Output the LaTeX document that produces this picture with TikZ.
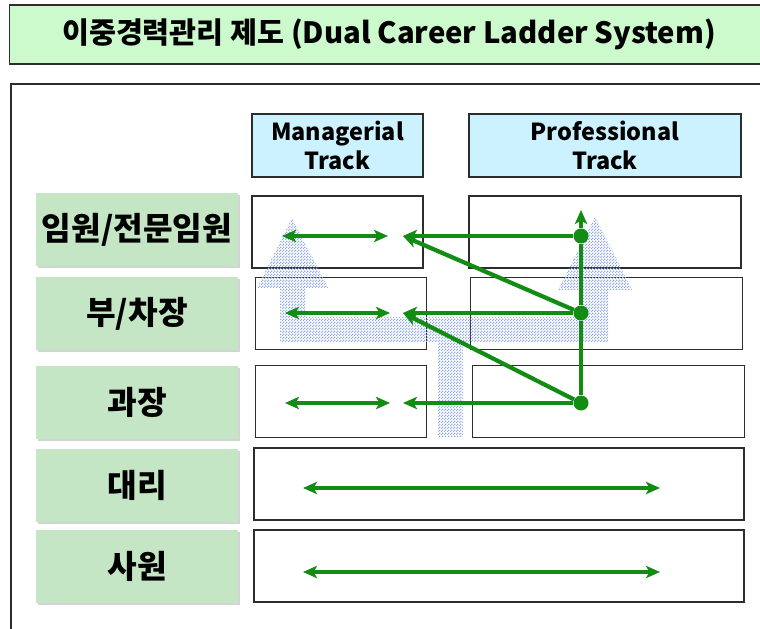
\documentclass[tikz,border=0pt]{standalone}
\usepackage{fontspec}
\setmainfont{Noto Sans CJK KR}
\usetikzlibrary{arrows.meta,patterns,shadows}
\definecolor{titlegreen}{RGB}{204,250,204}
\definecolor{rankgreen}{RGB}{196,230,196}
\definecolor{trackblue}{RGB}{204,242,255}
\definecolor{arrowgreen}{RGB}{18,140,18}
\definecolor{ladderblue}{RGB}{150,172,232}
\definecolor{boxline}{RGB}{45,45,45}
\pgfdeclarepatternformonly{finecheck}{\pgfqpoint{0pt}{0pt}}{\pgfqpoint{2.6pt}{2.6pt}}{\pgfqpoint{2.6pt}{2.6pt}}{
    \pgfpathrectangle{\pgfqpoint{0pt}{0pt}}{\pgfqpoint{1.3pt}{1.3pt}}
    \pgfpathrectangle{\pgfqpoint{1.3pt}{1.3pt}}{\pgfqpoint{1.3pt}{1.3pt}}
    \pgfusepath{fill}
}
\tikzset{
    rank/.style = {fill = rankgreen, minimum width = 6.06cm, minimum height = 2.19cm,
        drop shadow = {shadow xshift = 0.05cm, shadow yshift = -0.05cm, fill = gray, opacity = 0.35},
        font = \bfseries\fontsize{27.5}{30}\selectfont},
    cell/.style = {draw = boxline, line width = 1.1pt, fill = white, minimum height = 2.16cm},
    head/.style = {cell, fill = trackblue, minimum height = 1.89cm, align = center,
        font = \bfseries\fontsize{20}{25}\selectfont},
    mgr/.style = {minimum width = 5.13cm},
    pro/.style = {minimum width = 8.16cm},
    wide/.style = {minimum width = 14.7cm},
    move/.style = {arrowgreen, line width = 3.6pt, -{Stealth[length = 12pt, width = 10.5pt, inset = 3pt]}},
    swap/.style = {move, {Stealth[length = 12pt, width = 10.5pt, inset = 3pt]}-{Stealth[length = 12pt, width = 10.5pt, inset = 3pt]}},
    dot/.style = {circle, fill = arrowgreen, inner sep = 0pt, minimum size = 0.45cm}
}
\begin{document}
\begin{tikzpicture}[x = 0.03cm, y = -0.03cm]
    \useasboundingbox (0, 0) rectangle (760, 629);
    \node[draw = boxline, line width = 1.2pt, fill = titlegreen, minimum width = 22.77cm, minimum height = 1.77cm,
        font = \bfseries\fontsize{25}{28}\selectfont]
        (title) at (389, 34.5) {이중경력관리 제도 (Dual Career Ladder System)};
    \draw[boxline, line width = 1.2pt] (780, 84) -| (11, 640);

    \node[head, mgr] (mtrack) at (337.5, 145.5) {Managerial\\Track};
    \node[head, pro] (ptrack) at (605, 145.5) {Professional\\Track};

    \path
        (137, 230) node[rank] (r1) {임원/전문임원}
        (137, 313.5) node[rank] (r2) {부/차장}
        (137, 402.5) node[rank] (r3) {과장}
        (137, 485.5) node[rank] (r4) {대리}
        (137, 566.5) node[rank] (r5) {사원}
    ;
    \path
        (337.5, 232) node[cell, mgr] (m1) {}
        (341, 313.5) node[cell, mgr] (m2) {}
        (341, 401.5) node[cell, mgr] (m3) {}
        (605, 232) node[cell, pro] (p1) {}
        (606.5, 313.5) node[cell, pro] (p2) {}
        (608.5, 401.5) node[cell, pro] (p3) {}
        (499, 484) node[cell, wide] (w4) {}
        (499, 566) node[cell, wide] (w5) {}
    ;

    \fill[pattern = finecheck, pattern color = ladderblue]
        (438, 437) -- (438, 342) -- (280, 342) -- (280, 288) -- (257, 288) -- (292, 218)
        -- (328, 288) -- (305, 288) -- (305, 317) -- (583, 317) -- (583, 290) -- (558, 290)
        -- (595, 217) -- (632, 290) -- (608, 290) -- (608, 342) -- (463, 342) -- (463, 437)
        -- cycle
    ;

    \path
        (581, 236) node[dot] (d1) {}
        (581, 313) node[dot] (d2) {}
        (581, 403) node[dot] (d3) {}
        (581, 210) coordinate (up)
        (403, 236) coordinate (t1)
        (403, 313) coordinate (t2)
        (403, 403) coordinate (t3)
        (282, 236) coordinate (ml1) (388, 236) coordinate (mr1)
        (285, 313) coordinate (ml2) (390, 313) coordinate (mr2)
        (285, 403) coordinate (ml3) (390, 403) coordinate (mr3)
        (303, 488) coordinate (wl4) (660, 488) coordinate (wr4)
        (303, 572) coordinate (wl5) (660, 572) coordinate (wr5)
    ;
    \draw[arrowgreen, line width = 3.6pt]
        (d3) -- (d2)
        (d2) -- (d1)
    ;
    \draw[move] (d1) -- (up);
    \draw[move] (d1) -- (t1);
    \draw[move] (d2) -- (t2);
    \draw[move] (d3) -- (t3);
    \draw[move] (d2) -- (t1);
    \draw[move] (d3) -- (t2);
    \draw[swap] (ml1) -- (mr1);
    \draw[swap] (ml2) -- (mr2);
    \draw[swap] (ml3) -- (mr3);
    \draw[swap] (wl4) -- (wr4);
    \draw[swap] (wl5) -- (wr5);
\end{tikzpicture}
\end{document}
